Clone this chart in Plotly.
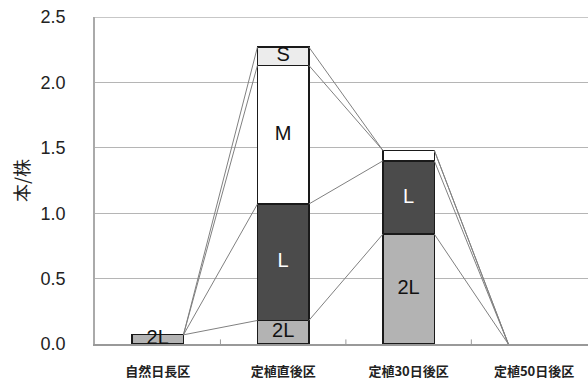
import plotly.graph_objects as go

categories = ["自然日長区", "定植直後区", "定植30日後区", "定植50日後区"]
series_names = ["2L", "L", "M", "S"]
v_2L = [0.07, 0.18, 0.84, 0.0]
v_L = [0.0, 0.89, 0.56, 0.0]
v_M = [0.0, 1.06, 0.08, 0.0]
v_S = [0.0, 0.14, 0.0, 0.0]
series_values = [v_2L, v_L, v_M, v_S]
colors = ["#b3b3b3", "#4b4b4b", "#ffffff", "#ececec"]
text_colors = ["#111111", "#ffffff", "#111111", "#111111"]
# which segments carry a label: one row per series, one entry per category
label_2L = [True, True, True, False]
label_L = [False, True, True, False]
label_M = [False, True, False, False]
label_S = [False, True, False, False]
show_label = [label_2L, label_L, label_M, label_S]

bar_w = 0.41
xs = list(range(len(categories)))

fig = go.Figure()

cum = []
running = [0.0] * len(categories)
for vals in series_values:
    running = [r + v for r, v in zip(running, vals)]
    cum.append(list(running))

# Excel-style series lines
lx, ly = [], []
for k in range(len(series_values)):
    for i in range(len(categories) - 1):
        lx += [xs[i] + bar_w / 2, xs[i + 1] - bar_w / 2, None]
        ly += [cum[k][i], cum[k][i + 1], None]
fig.add_trace(go.Scatter(x=lx, y=ly, mode="lines",
                         line=dict(color="#808080", width=1),
                         showlegend=False, hoverinfo="skip"))

for k, (name, vals) in enumerate(zip(series_names, series_values)):
    fig.add_trace(go.Bar(x=xs, y=[v if v > 0 else None for v in vals], name=name, width=bar_w,
                         marker=dict(color=colors[k], line=dict(color="#1a1a1a", width=1.3)),
                         showlegend=False))

for k, (name, vals) in enumerate(zip(series_names, series_values)):
    tx, ty = [], []
    for i in range(len(categories)):
        if show_label[k][i]:
            tx.append(xs[i])
            ty.append(cum[k][i] - vals[i] / 2)
    if tx:
        fig.add_trace(go.Scatter(x=tx, y=ty, mode="text", text=[name] * len(tx),
                                 textfont=dict(family="Liberation Sans, Arial", size=20,
                                               color=text_colors[k]),
                                 showlegend=False, hoverinfo="skip"))

fig.update_layout(
    width=588, height=380,
    margin=dict(l=95, r=0, t=17, b=32),
    paper_bgcolor="white", plot_bgcolor="white",
    barmode="stack",
    font=dict(family="Liberation Sans, Arial", color="#222222"),
)
fig.update_xaxes(
    range=[-0.5, 3.43],
    tickmode="array", tickvals=xs, ticktext=categories,
    tickfont=dict(family="Noto Sans CJK JP", size=13, color="#222222", weight="bold"),
    showline=True, linecolor="#999999", linewidth=1.5,
    showgrid=False, zeroline=False,
    ticks="", ticklabelstandoff=15,
)
for b in [0.5, 1.5, 2.5]:
    fig.add_shape(type="line", xref="x", yref="y", x0=b, x1=b, y0=0, y1=0.035,
                  line=dict(color="#999999", width=1))
fig.add_shape(type="line", xref="paper", yref="y", x0=0, x1=1, y0=2.5, y1=2.5,
              line=dict(color="#b5b5b5", width=1.5), layer="below")
fig.update_yaxes(
    range=[0, 2.5], tickvals=[0, 0.5, 1.0, 1.5, 2.0, 2.5], tickformat=".1f",
    tickfont=dict(size=18, color="#222222"),
    showline=True, linecolor="#aaaaaa", linewidth=1.5,
    showgrid=True, gridcolor="#b5b5b5", gridwidth=1.2,
    zeroline=False, ticks="", ticklabelstandoff=24,
    title=dict(text="本/株", font=dict(family="Noto Sans CJK JP", size=18, color="#222222"),
               standoff=6),
)

fig.write_html("out.html")
